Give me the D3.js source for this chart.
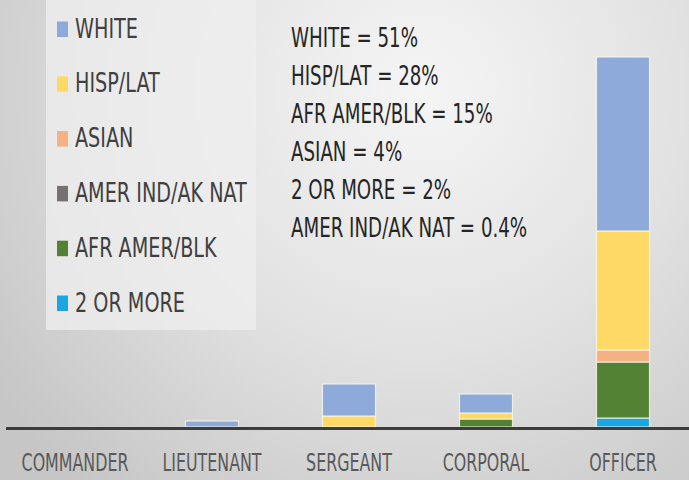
<!DOCTYPE html>
<html>
<head>
<meta charset="utf-8">
<script src="https://cdn.jsdelivr.net/npm/d3@7"></script>
<style>
  html, body { margin: 0; padding: 0; background: #d6d6d6; }
  svg { display: block; }
  text { font-family: "DejaVu Sans Condensed", "DejaVu Sans", sans-serif; font-stretch: condensed; }
</style>
</head>
<body>
<div id="chart"></div>
<script>
// -------------------- DATA -------------------- //
const ranks = ["COMMANDER", "LIEUTENANT", "SERGEANT", "CORPORAL", "OFFICER"];
// legend order (top to bottom)
const groups = ["WHITE", "HISP/LAT", "ASIAN", "AMER IND/AK NAT", "AFR AMER/BLK", "2 OR MORE"];
const groupColors = ["#8eaadb", "#ffd966", "#f4b183", "#767171", "#548235", "#1ba6e3"];

// headcount per rank, one array per group (same order as ranks)
const white    = [0, 6, 32, 19, 174];
const hispLat  = [0, 0, 11, 6, 119];
const asian    = [0, 0, 0, 0, 12];
const amerInd  = [0, 0, 0, 0, 0];
const afrAmer  = [0, 0, 0, 8, 56];
const twoMore  = [0, 0, 0, 0, 9];

const notes = ["WHITE = 51%", "HISP/LAT = 28%", "AFR AMER/BLK = 15%", "ASIAN = 4%", "2 OR MORE = 2%", "AMER IND/AK NAT = 0.4%"];

// -------------------- SETUP -------------------- //
const W = 689, H = 480;
const svg = d3.select("#chart").append("svg").attr("width", W).attr("height", H);

// the slide font is tall and narrow -> squeeze text horizontally
const LEGEND_SQUEEZE = 0.79;
const NOTE_SQUEEZE = 0.75;

let defs = svg.append("defs");
let bg = defs.append("radialGradient").attr("id", "bg")
    .attr("gradientUnits", "userSpaceOnUse")
    .attr("cx", 420).attr("cy", 90).attr("r", 520);
bg.append("stop").attr("offset", 0).attr("stop-color", "#f5f5f5");
bg.append("stop").attr("offset", 0.5).attr("stop-color", "#e2e2e2");
bg.append("stop").attr("offset", 1).attr("stop-color", "#c6c6c6");
svg.append("rect").attr("width", W).attr("height", H).attr("fill", "url(#bg)");

let table = ranks.map((r, i) => ({
    rank: r,
    "WHITE": white[i],
    "HISP/LAT": hispLat[i],
    "ASIAN": asian[i],
    "AMER IND/AK NAT": amerInd[i],
    "AFR AMER/BLK": afrAmer[i],
    "2 OR MORE": twoMore[i]
}));

let color = d3.scaleOrdinal().domain(groups).range(groupColors);

// stacked bottom-up in reverse of legend order
let series = d3.stack().keys(groups.slice().reverse())(table);

let baseY = 427;
let x = d3.scaleBand().domain(ranks).range([6.5, 691.5]).paddingInner(0.613).paddingOuter(0.3065);
let y = d3.scaleLinear().domain([0, 371]).range([baseY, 56]);

// -------------------- LEGEND -------------------- //
svg.append("rect").attr("x", 46).attr("y", 0).attr("width", 210).attr("height", 330)
    .attr("fill", "#efefef").attr("opacity", 0.75);

let leg = svg.append("g").selectAll("g").data(groups).join("g")
    .attr("transform", (d, i) => `translate(57,${29 + i * 54.8})`);
leg.append("rect").attr("x", 0).attr("y", -7.5).attr("width", 11).attr("height", 15.5)
    .attr("fill", d => color(d));
leg.append("text")
    .attr("transform", `translate(18,8.5) scale(${LEGEND_SQUEEZE},1)`)
    .attr("font-size", 27)
    .attr("fill", "#404040").text(d => d);

// -------------------- NOTES -------------------- //
svg.append("g").selectAll("text").data(notes).join("text")
    .attr("transform", (d, i) => `translate(291,${47 + i * 38}) scale(${NOTE_SQUEEZE},1)`)
    .attr("font-size", 27).attr("fill", "#262626")
    .text(d => d);

// -------------------- BARS -------------------- //
svg.append("g").selectAll("g").data(series).join("g")
    .attr("fill", d => color(d.key))
    .selectAll("rect").data(d => d.filter(s => s[1] - s[0] > 0)).join("rect")
    .attr("x", d => x(d.data.rank))
    .attr("y", d => y(d[1]))
    .attr("width", x.bandwidth())
    .attr("height", d => y(d[0]) - y(d[1]))
    .attr("stroke", "#fbf6e8").attr("stroke-opacity", 0.8).attr("stroke-width", 1.2);

// -------------------- AXIS -------------------- //
let xAxis = svg.append("g").attr("transform", `translate(0,${baseY + 1.5})`)
    .call(d3.axisBottom(x).tickSize(0).tickPadding(0));
xAxis.select(".domain").attr("d", `M6,0H${W}`).attr("stroke", "#3c3c3c").attr("stroke-width", 3);
xAxis.selectAll("text").attr("y", 0).attr("dy", 0)
    .attr("transform", `translate(0,42) scale(0.735,1)`)
    .attr("font-size", 24).attr("fill", "#595959")
    .style("font-family", "'DejaVu Sans Condensed', 'DejaVu Sans', sans-serif");
</script>
</body>
</html>
